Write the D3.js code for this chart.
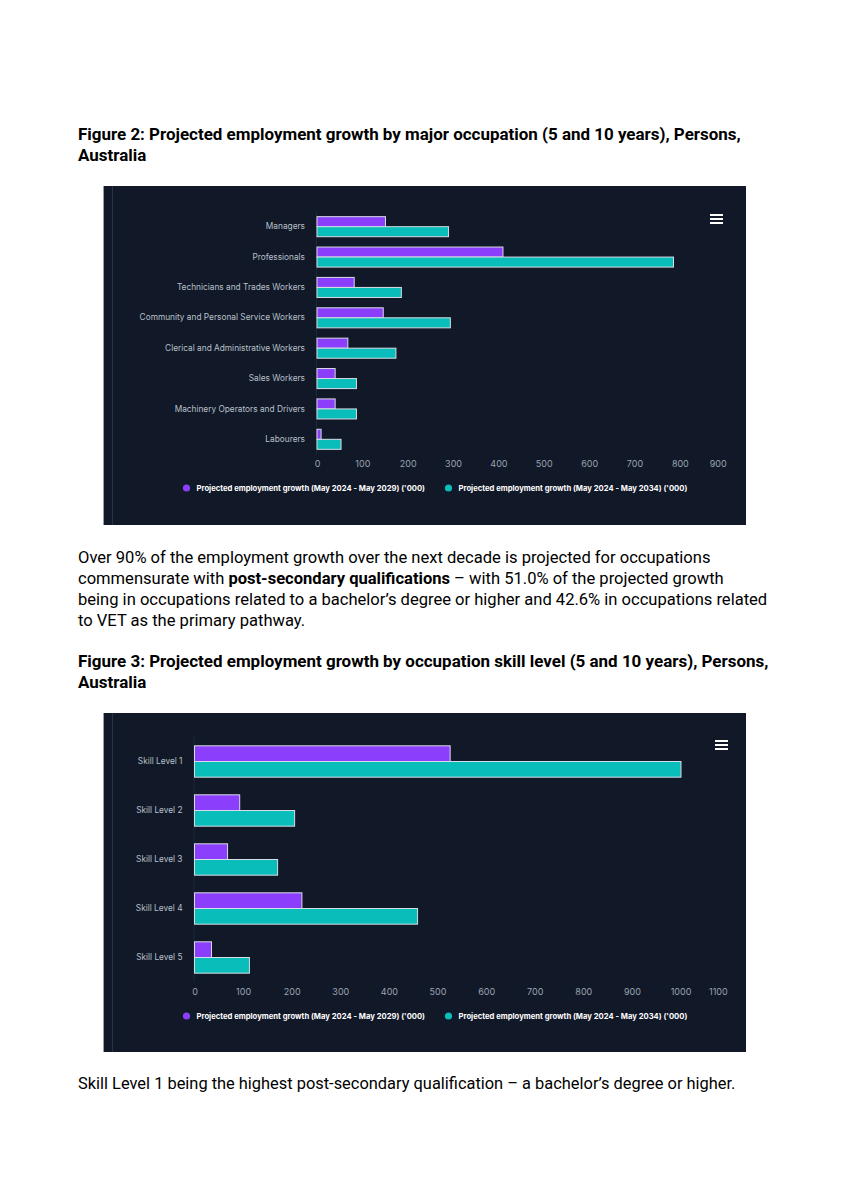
<!DOCTYPE html>
<html>
<head>
<meta charset="utf-8">
<script src="https://cdn.jsdelivr.net/npm/d3@7"></script>
<style>
  body { margin: 0; background: #ffffff; }
</style>
</head>
<body>
<svg id="page" width="848" height="1200"></svg>
<script>
// ---- data ----
const occupations = [
  "Managers",
  "Professionals",
  "Technicians and Trades Workers",
  "Community and Personal Service Workers",
  "Clerical and Administrative Workers",
  "Sales Workers",
  "Machinery Operators and Drivers",
  "Labourers"
];
const occGrowth5yr = [151, 410, 82, 146, 68, 40, 40, 9];
const occGrowth10yr = [290, 786, 186, 294, 174, 87, 87, 53];
const occTicks = [0, 100, 200, 300, 400, 500, 600, 700, 800, 900];

const skillLevels = ["Skill Level 1", "Skill Level 2", "Skill Level 3", "Skill Level 4", "Skill Level 5"];
const skillGrowth5yr = [526, 93, 68, 221, 35];
const skillGrowth10yr = [1001, 206, 171, 459, 113];
const skillTicks = [0, 100, 200, 300, 400, 500, 600, 700, 800, 900, 1000, 1100];

const seriesNames = [
  "Projected employment growth (May 2024 - May 2029) ('000)",
  "Projected employment growth (May 2024 - May 2034) ('000)"
];
const seriesColors = ["#8b3ffd", "#08bdba"];

const title2 = ["Figure 2: Projected employment growth by major occupation (5 and 10 years), Persons,", "Australia"];
const bodyLines = [
  [["Over 90% of the employment growth over the next decade is projected for occupations", false]],
  [["commensurate with ", false], ["post-secondary qualifications", true], [" \u2013 with 51.0% of the projected growth", false]],
  [["being in occupations related to a bachelor\u2019s degree or higher and 42.6% in occupations related", false]],
  [["to VET as the primary pathway.", false]]
];
const title3 = ["Figure 3: Projected employment growth by occupation skill level (5 and 10 years), Persons,", "Australia"];
const footLine = "Skill Level 1 being the highest post-secondary qualification \u2013 a bachelor\u2019s degree or higher.";

// ---- page ----
const svg = d3.select("#page");
svg.append("rect").attr("width", 848).attr("height", 1200).attr("fill", "#ffffff");

const docFont = "Roboto, 'Liberation Sans', sans-serif";

// writes a block of lines, sizing the font so that the reference line matches targetW
function textBlock(lines, x, y0, lineH, weight, targetW, refLine) {
  const g = svg.append("g").attr("font-family", docFont).attr("fill", "#000");
  const texts = lines.map((segs, i) => {
    const t = g.append("text").attr("x", x).attr("y", y0 + i * lineH)
      .attr("font-size", 16).attr("dominant-baseline", "central");
    segs.forEach(s => {
      t.append("tspan").text(s[0]).attr("font-weight", s[1] ? 700 : weight);
    });
    return t;
  });
  const w = texts[refLine].node().getComputedTextLength();
  const fs = 16 * targetW / w;
  texts.forEach(t => t.attr("font-size", fs));
}

textBlock(title2.map(l => [[l, true]]), 78, 134, 21, 700, 663, 0);
textBlock(bodyLines, 78, 557, 21, 400, 690, 2);
textBlock(title3.map(l => [[l, true]]), 78, 661, 21, 700, 691, 0);
textBlock([[[footLine, false]]], 78, 1083, 21, 400, 658, 0);

// ---- chart drawing ----
function drawChart(cfg) {
  const g = svg.append("g");
  // panel
  g.append("rect").attr("x", cfg.panel[0]).attr("y", cfg.panel[1])
    .attr("width", cfg.panel[2]).attr("height", cfg.panel[3]).attr("fill", "#111827");
  g.append("line").attr("x1", cfg.panel[0] + 0.5).attr("x2", cfg.panel[0] + 0.5)
    .attr("y1", cfg.panel[1]).attr("y2", cfg.panel[1] + cfg.panel[3])
    .attr("stroke", "#9aa0a8").attr("stroke-width", 1);
  g.append("line").attr("x1", cfg.panel[0] + 9.5).attr("x2", cfg.panel[0] + 9.5)
    .attr("y1", cfg.panel[1]).attr("y2", cfg.panel[1] + cfg.panel[3])
    .attr("stroke", "#273246").attr("stroke-width", 1);

  const x = d3.scaleLinear().domain([0, cfg.max]).range([cfg.left, cfg.right]);
  const y = d3.scaleBand().domain(cfg.categories).range([cfg.top, cfg.bottom]);
  const barH = y.bandwidth() * cfg.barFrac;

  // y axis line
  g.append("line").attr("x1", cfg.left - 0.5).attr("x2", cfg.left - 0.5)
    .attr("y1", cfg.top).attr("y2", cfg.bottom).attr("stroke", "#1e2838");

  // bars
  [cfg.s1, cfg.s2].forEach((vals, si) => {
    g.selectAll(null).data(vals).enter().append("rect")
      .attr("x", x(0))
      .attr("y", (d, i) => y(cfg.categories[i]) + y.bandwidth() / 2 - barH + si * barH)
      .attr("width", d => x(d) - x(0))
      .attr("height", barH)
      .attr("fill", seriesColors[si])
      .attr("stroke", "#d8dce4")
      .attr("stroke-width", 1);
  });

  // category axis
  const ya = g.append("g").attr("transform", `translate(${cfg.left - 12},0)`)
    .call(d3.axisLeft(y).tickSize(0).tickPadding(0));
  ya.select(".domain").remove();
  ya.selectAll("text").attr("fill", "#b9c0cb").attr("font-size", 8.3)
    .attr("font-family", "Inter, 'Noto Sans', sans-serif");

  // value axis
  const xa = g.append("g").attr("transform", `translate(0,${cfg.tickY})`)
    .call(d3.axisBottom(x).tickValues(cfg.ticks).tickFormat(d3.format("d")).tickSize(0).tickPadding(0));
  xa.select(".domain").remove();
  xa.selectAll("text").attr("fill", "#9ba4b2").attr("font-size", 9)
    .attr("font-family", "Inter, 'Noto Sans', sans-serif").attr("dy", "0.32em");
  xa.selectAll(".tick").each(function () {
    const t = d3.select(this).select("text");
    const bb = t.node().getBBox();
    const tr = d3.select(this).attr("transform");
    const tx = +tr.match(/translate\(([-\d.]+)/)[1];
    const over = tx + bb.x + bb.width - cfg.labelMaxX;
    if (over > 0) t.attr("x", -over);
  });

  // legend
  const lg = g.append("g").attr("transform", `translate(0,${cfg.legendY})`);
  seriesNames.forEach((name, i) => {
    const lx = cfg.legendX[i];
    lg.append("circle").attr("cx", lx).attr("cy", 0).attr("r", 3.6).attr("fill", seriesColors[i]);
    const t = lg.append("text").attr("x", lx + 10).attr("y", 0).attr("dy", "0.35em")
      .attr("fill", "#ffffff").attr("font-weight", 700).attr("font-size", 8)
      .attr("font-family", "Inter, 'Noto Sans', sans-serif").text(name);
    const w = t.node().getComputedTextLength();
    t.attr("font-size", 8 * cfg.legendW / w);
  });

  // menu icon
  const mi = g.append("g").attr("transform", `translate(${cfg.menu[0]},${cfg.menu[1]})`);
  [0, 4, 8].forEach(dy => {
    mi.append("rect").attr("x", 0).attr("y", dy).attr("width", 13).attr("height", 2).attr("fill", "#ffffff");
  });
}

drawChart({
  panel: [103, 186, 643, 339],
  categories: occupations, s1: occGrowth5yr, s2: occGrowth10yr,
  max: 900, ticks: occTicks,
  left: 317, right: 725.2, top: 211.5, bottom: 454.5, barFrac: 0.33,
  tickY: 464.5, labelMaxX: 727,
  legendY: 488, legendX: [186.5, 448.5], legendW: 229,
  menu: [710, 214]
});

drawChart({
  panel: [103, 713, 643, 339],
  categories: skillLevels, s1: skillGrowth5yr, s2: skillGrowth10yr,
  max: 1100, ticks: skillTicks,
  left: 194.5, right: 729.1, top: 737, bottom: 982, barFrac: 0.32,
  tickY: 992.5, labelMaxX: 728,
  legendY: 1016, legendX: [186.5, 448.5], legendW: 229,
  menu: [715, 740]
});
</script>
</body>
</html>
